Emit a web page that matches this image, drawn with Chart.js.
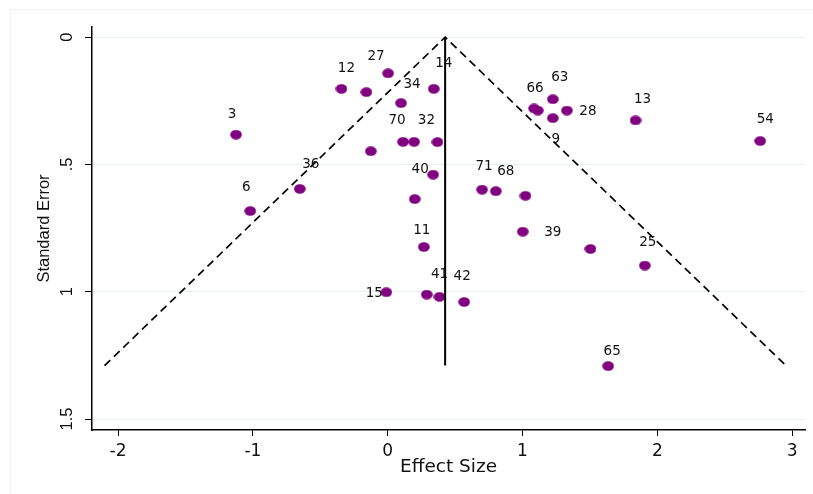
<!DOCTYPE html>
<html>
<head>
<meta charset="utf-8">
<script src="https://cdn.jsdelivr.net/npm/chart.js@4/dist/chart.umd.min.js"></script>
<style>
  html, body { margin: 0; padding: 0; background: #ffffff; }
  #wrap { width: 813px; height: 494px; position: relative; }
</style>
</head>
<body>
<div id="wrap"><canvas id="chart"></canvas></div>
<script>
"use strict";

// study estimates
const effect_size = [-1.125, -0.343, -0.158, 0.003, 0.099, 0.342, 0.114, 0.196, 0.369, -0.125,
  0.337, -0.652, -1.019, 0.201, 0.268, -0.010, 0.290, 0.384, 0.567, 0.700,
  0.802, 1.022, 1.086, 1.113, 1.225, 1.225, 1.329, 1.838, 2.763, 1.002,
  1.504, 1.907, 1.635];
const std_error = [0.383, 0.203, 0.216, 0.142, 0.259, 0.203, 0.411, 0.411, 0.412, 0.448,
  0.540, 0.596, 0.683, 0.636, 0.824, 1.002, 1.011, 1.020, 1.040, 0.599,
  0.605, 0.623, 0.280, 0.288, 0.244, 0.318, 0.288, 0.327, 0.408, 0.764,
  0.832, 0.897, 1.292];
const study_id = ['3', '12', '', '27', '34', '14', '70', '', '32', '',
  '40', '36', '6', '', '11', '15', '', '41', '42', '71',
  '68', '', '66', '', '63', '9', '28', '13', '54', '39',
  '', '25', '65'];

// pseudo 95% limits and pooled estimate
const funnel_x = [-2.10, 0.426, 2.954];
const funnel_y = [1.29, 0, 1.29];
const pooled_x = [0.426, 0.426];
const pooled_y = [0, 1.29];

const x_ticks = [-2, -1, 0, 1, 2, 3];
const y_ticks = [0, 0.5, 1, 1.5];
const y_tick_text = ['0', '.5', '1', '1.5'];

// where each study label sits relative to its marker (px)
const label_offsets = {
  '3': [-4, -20], '12': [5, -20], '27': [-12, -17], '34': [11, -19], '14': [10, -25],
  '70': [-6, -21], '32': [-11, -22], '40': [-13, -5], '36': [11, -24], '6': [-4, -24],
  '11': [-2, -16], '15': [-12, 1], '41': [0, -22], '42': [-2, -25], '71': [2, -23],
  '68': [10, -20], '66': [1, -20], '63': [7, -22], '9': [3, 21], '28': [21, 1],
  '13': [7, -21], '54': [5, -22], '39': [30, 1], '25': [3, -23], '65': [4, -15],
};

function make_marker() {
  var c = document.createElement('canvas');
  c.width = 12;
  c.height = 10;
  var ctx = c.getContext('2d');
  ctx.fillStyle = '#800080';
  ctx.beginPath();
  ctx.ellipse(6, 5, 5.8, 4.8, 0, 0, 2 * Math.PI);
  ctx.fill();
  return c;
}

const frame_plugin = {
  id: 'frame',
  beforeDraw(chart) {
    const ctx = chart.ctx;
    ctx.save();
    ctx.fillStyle = '#ffffff';
    ctx.fillRect(0, 0, chart.width, chart.height);
    ctx.strokeStyle = '#f1f3f4';
    ctx.lineWidth = 1;
    ctx.strokeRect(10.5, 9.5, chart.width, chart.height);
    ctx.restore();
  }
};

const label_plugin = {
  id: 'study_labels',
  afterDatasetsDraw(chart) {
    const ctx = chart.ctx;
    const meta = chart.getDatasetMeta(2);
    ctx.save();
    ctx.font = '13.5px "DejaVu Sans", sans-serif';
    ctx.fillStyle = '#111111';
    ctx.textAlign = 'center';
    ctx.textBaseline = 'middle';
    meta.data.forEach((pt, i) => {
      const label = study_id[i];
      if (!label) return;
      const off = label_offsets[label] || [0, -20];
      ctx.fillText(label, pt.x + off[0], pt.y + off[1]);
    });
    ctx.restore();
  }
};

new Chart(document.getElementById('chart'), {
  type: 'scatter',
  data: {
    datasets: [
      {
        type: 'line',
        data: funnel_x.map((x, i) => ({ x: x, y: funnel_y[i] })),
        borderColor: '#000000',
        borderWidth: 1.7,
        borderDash: [8, 5],
        pointRadius: 0,
        fill: false,
        tension: 0,
      },
      {
        type: 'line',
        data: pooled_x.map((x, i) => ({ x: x, y: pooled_y[i] })),
        borderColor: '#000000',
        borderWidth: 2,
        pointRadius: 0,
        fill: false,
      },
      {
        data: effect_size.map((x, i) => ({ x: x, y: std_error[i] })),
        pointStyle: make_marker(),
        pointRadius: 5,
        pointHoverRadius: 5,
      },
    ],
  },
  options: {
    responsive: true,
    maintainAspectRatio: false,
    animation: false,
    events: [],
    layout: { padding: { left: 35, right: 8, top: 27, bottom: 0 } },
    plugins: {
      legend: { display: false },
      tooltip: { enabled: false },
    },
    scales: {
      x: {
        type: 'linear',
        min: -2.193,
        max: 3.095,
        afterFit(scale) { scale.height = 64; },
        afterBuildTicks(scale) { scale.ticks = x_ticks.map(v => ({ value: v })); },
        grid: { drawOnChartArea: false, tickLength: 6, tickColor: '#000000' },
        border: { color: '#000000', width: 1.5 },
        ticks: {
          padding: 5,
          color: '#111111',
          font: { family: '"DejaVu Sans", sans-serif', size: 17 },
          maxRotation: 0,
        },
        title: {
          display: true,
          text: 'Effect Size',
          color: '#111111',
          font: { family: '"DejaVu Sans", sans-serif', size: 18.5 },
          padding: { top: 0, bottom: 16 },
        },
      },
      y: {
        type: 'linear',
        reverse: true,
        min: -0.04,
        max: 1.543,
        afterFit(scale) { scale.width = 57; },
        afterBuildTicks(scale) { scale.ticks = y_ticks.map(v => ({ value: v })); },
        grid: { color: '#e8f0f2', lineWidth: 1, tickLength: 7, tickColor: '#000000' },
        border: { color: '#000000', width: 1.5 },
        ticks: {
          padding: 6,
          color: '#111111',
          font: { family: '"Liberation Sans", Arial, sans-serif', size: 16.5 },
          minRotation: 90,
          maxRotation: 90,
          crossAlign: 'center',
          callback: (v) => y_tick_text[y_ticks.indexOf(v)],
        },
        title: {
          display: true,
          text: 'Standard Error',
          color: '#111111',
          font: { family: '"Liberation Sans", Arial, sans-serif', size: 16.5 },
          padding: { top: 0, bottom: 0 },
        },
      },
    },
  },
  plugins: [frame_plugin, label_plugin],
});
</script>
</body>
</html>
